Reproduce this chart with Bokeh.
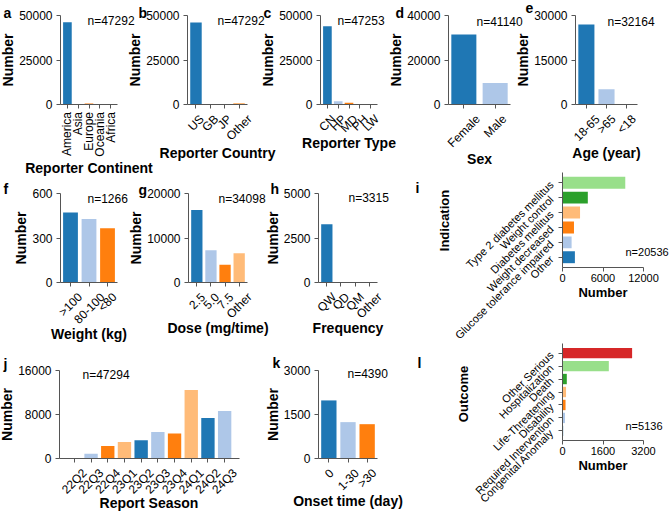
import math
from bokeh.plotting import figure
from bokeh.models import (Range1d, FixedTicker, LabelSet, Label, ColumnDataSource,
                          CustomJSTickFormatter, LinearAxis)
from bokeh.core.properties import value
from bokeh.embed import file_html
from bokeh.resources import INLINE

# ---------------------------------------------------------------- data
continent_labels = ["America", "Asia", "Europe", "Oceania", "Africa"]
continent_counts = [46200, 350, 600, 100, 42]

country_labels = ["US", "GB", "JP", "Other"]
country_counts = [46050, 300, 150, 792]

reporter_labels = ["CN", "HP", "MD", "PH", "LW"]
reporter_counts = [44000, 1800, 1050, 350, 53]

sex_labels = ["Female", "Male"]
sex_counts = [31480, 9660]

age_labels = ["18-65", ">65", "<18"]
age_counts = [26980, 5140, 44]

weight_labels = [">100", "80-100", "<80"]
weight_counts = [472, 428, 366]

dose_labels = ["2.5", "5.0", "7.5", "Other"]
dose_counts = [16300, 7230, 4000, 6568]

freq_labels = ["QW", "QD", "QM", "Other"]
freq_counts = [3270, 20, 15, 10]

indication_labels = ["Type 2 diabetes mellitus", "Weight control", "Diabetes mellitus",
                     "Weight decreased", "Glucose tolerance impaired", "Other"]
indication_counts = [9300, 3750, 2600, 1700, 1350, 1836]

season_labels = ["22Q2", "22Q3", "22Q4", "23Q1", "23Q2", "23Q3", "23Q4", "24Q1", "24Q2", "24Q3"]
season_counts = [30, 880, 2260, 2980, 3340, 4800, 4560, 12450, 7350, 8644]

onset_labels = ["0", "1-30", ">30"]
onset_counts = [1980, 1240, 1170]

outcome_labels = ["Other Serious", "Hospitalization", "Death", "Life-Threatening",
                  "Disability", "Required Intervention", "Congenital Anomaly"]
outcome_counts = [2750, 1830, 170, 140, 120, 100, 26]

# ---------------------------------------------------------------- style
W, H = 669, 511
FONT = "Liberation Sans"
AXIS_COLOR = "#555555"
BLUE, LBLUE, ORANGE, LORANGE = "#1f77b4", "#aec7e8", "#ff7f0e", "#ffbb78"
GREEN, LGREEN, RED = "#2ca02c", "#98df8a", "#d62728"
CYCLE4 = [BLUE, LBLUE, ORANGE, LORANGE]
TAB20 = [BLUE, LBLUE, ORANGE, LORANGE, GREEN, LGREEN, RED]

TICK_PX = 12      # vertical-bar panels
HTICK_PX = 11     # horizontal-bar panels

# advance widths (1/1000 em) of the sans face, used to centre rotated tick labels
_ADV = {" ": 278, "(": 333, ")": 333, "-": 333, ".": 278, "/": 278, "<": 584, ">": 584, "=": 584}
_ADV.update({d: 556 for d in "0123456789"})
_ADV.update(dict(zip("ABCDEFGHIJKLMNOPQRSTUVWXYZ",
                     [667, 667, 722, 722, 667, 611, 778, 722, 278, 500, 667, 556, 833,
                      722, 778, 667, 778, 722, 667, 611, 722, 667, 944, 667, 667, 611])))
_ADV.update(dict(zip("abcdefghijklmnopqrstuvwxyz",
                     [556, 556, 500, 556, 556, 278, 556, 556, 222, 222, 500, 222, 833,
                      556, 556, 556, 556, 333, 500, 278, 556, 500, 722, 500, 500, 500])))


def text_w(s, px):
    return sum(_ADV.get(ch, 556) for ch in s) * px / 1000.0


# one canvas; every panel gets its own pair of scales laid over it
p = figure(width=W, height=H, title=None, output_backend="svg", toolbar_location=None,
           x_axis_type=None, y_axis_type=None, min_border=0,
           x_range=Range1d(0, W), y_range=Range1d(0, H))
p.min_border_left = p.min_border_right = p.min_border_top = p.min_border_bottom = 0
p.outline_line_color = None
p.background_fill_color = "white"
p.border_fill_color = "white"


def x_span(px0, px1, d0, d1):
    s = (d1 - d0) / (px1 - px0)
    return Range1d(d0 - px0 * s, d0 + (W - px0) * s)


def y_span(py_top, py_bot, v_top, v_bot):
    s = (v_top - v_bot) / (py_bot - py_top)
    return Range1d(v_bot - (H - py_bot) * s, v_top + py_top * s)


def style_axis(ax, tick_px=TICK_PX, label_px=14):
    ax.axis_line_color = AXIS_COLOR
    ax.axis_line_width = 1
    ax.major_tick_line_color = AXIS_COLOR
    ax.minor_tick_line_color = None
    ax.major_tick_out = 4
    ax.major_tick_in = 0
    ax.major_label_text_font = FONT
    ax.major_label_text_font_size = f"{tick_px}px"
    ax.major_label_text_color = "black"
    ax.major_label_standoff = 4
    ax.axis_label_text_font = FONT
    ax.axis_label_text_font_size = f"{label_px}px"
    ax.axis_label_text_font_style = "bold"
    ax.axis_label_text_color = "black"
    ax.axis_label_standoff = 0
    return ax


def page_text(text, x, y, size="12px", bold=False, align="left", baseline="middle", angle=0.0):
    p.add_layout(Label(x=x, y=H - y, text=text, angle=angle,
                       text_font=FONT, text_font_size=size,
                       text_font_style="bold" if bold else "normal", text_color="black",
                       text_align=align, text_baseline=baseline))


def vbar_panel(key, frame, labels, counts, ymax, yticks, letter, letter_xy, n_xy,
               xlabel, xlabel_xy, angle_deg=45):
    fx0, fy0, fx1, fy1 = frame
    n = len(labels)
    m = 0.05 * (n - 0.2)
    d0, d1 = -0.4 - m, n - 1 + 0.4 + m
    p.extra_x_ranges[key] = x_span(fx0, fx1, d0, d1)
    p.extra_y_ranges[key] = y_span(fy0, fy1, ymax, 0)

    colors = [CYCLE4[i % 4] for i in range(n)]
    src = ColumnDataSource(dict(x=list(range(n)), top=counts, color=colors))
    p.vbar(x="x", top="top", bottom=0, width=0.8, fill_color="color", line_color=None,
           source=src, x_range_name=key, y_range_name=key)

    xax = style_axis(LinearAxis(x_range_name=key, y_range_name=key, fixed_location=0,
                                bounds=(d0, d1), ticker=FixedTicker(ticks=list(range(n))),
                                formatter=CustomJSTickFormatter(code="return ''")))
    p.add_layout(xax, "below")
    yax = style_axis(LinearAxis(x_range_name=key, y_range_name=key, fixed_location=d0,
                                bounds=(0, ymax), ticker=FixedTicker(ticks=yticks),
                                axis_label="Number"))
    p.add_layout(yax, "left")

    # category labels, rotated and centred under their ticks
    ang = math.radians(angle_deg)
    ylab = fy1 + 7.5 + 7 * math.cos(ang)
    lab = ColumnDataSource(dict(
        x=list(range(n)),
        y=[H - ylab] * n,
        xoff=[0.5 * text_w(s, TICK_PX) * math.cos(ang) for s in labels],
        text=labels))
    p.add_layout(LabelSet(x="x", y="y", x_range_name=key, y_range_name="default",
                          text="text", x_offset="xoff", angle=ang, source=lab,
                          text_font=value(FONT), text_font_size=value(f"{TICK_PX}px"),
                          text_color="black", text_align="right", text_baseline="middle"))

    page_text(xlabel, *xlabel_xy, size="14px", bold=True, align="center")
    page_text(letter, *letter_xy, size="14px", bold=True, baseline="alphabetic")
    page_text(f"n={sum(counts)}", *n_xy, size=f"{TICK_PX}px")


def hbar_panel(key, frame, labels, counts, xmax, xticks, letter, letter_xy, n_xy,
               ylabel, ylabel_xy):
    fx0, fy0, fx1, fy1 = frame
    n = len(labels)
    m = 0.05 * (n - 0.2)
    d0, d1 = -0.4 - m, n - 1 + 0.4 + m
    p.extra_x_ranges[key] = x_span(fx0, fx1, 0, xmax)
    p.extra_y_ranges[key] = y_span(fy0, fy1, d1, d0)

    ypos = [n - 1 - i for i in range(n)]          # first category on top
    colors = TAB20[:n][::-1]
    src = ColumnDataSource(dict(y=ypos, right=counts, color=colors))
    p.hbar(y="y", right="right", left=0, height=0.8, fill_color="color", line_color=None,
           source=src, x_range_name=key, y_range_name=key)

    xax = style_axis(LinearAxis(x_range_name=key, y_range_name=key, fixed_location=d0,
                                bounds=(0, xmax), ticker=FixedTicker(ticks=xticks),
                                axis_label="Number"), tick_px=HTICK_PX, label_px=13)
    xax.major_label_standoff = 2
    p.add_layout(xax, "below")
    yax = style_axis(LinearAxis(x_range_name=key, y_range_name=key, fixed_location=0,
                                bounds=(d0, d1), ticker=FixedTicker(ticks=ypos),
                                formatter=CustomJSTickFormatter(code="return ''")))
    p.add_layout(yax, "left")

    lab = ColumnDataSource(dict(x=[fx0 - 11] * n, y=ypos, text=labels))
    p.add_layout(LabelSet(x="x", y="y", x_range_name="default", y_range_name=key,
                          text="text", angle=math.radians(45), source=lab,
                          text_font=value(FONT), text_font_size=value(f"{HTICK_PX}px"),
                          text_color="black", text_align="right", text_baseline="middle"))

    page_text(ylabel, *ylabel_xy, size="13px", bold=True, align="center", angle=math.pi / 2)
    page_text(letter, *letter_xy, size="14px", bold=True, baseline="alphabetic")
    page_text(f"n={sum(counts)}", *n_xy, size=f"{HTICK_PX}px")


# ---------------------------------------------------------------- panels
vbar_panel("a", (60, 15, 117, 104), continent_labels, continent_counts,
           50000, [0, 25000, 50000], "a", (3, 12), (87, 20),
           "Reporter Continent", (88.5, 167), angle_deg=90)
vbar_panel("b", (187, 15, 247, 104), country_labels, country_counts,
           50000, [0, 25000, 50000], "b", (138, 12), (217, 20),
           "Reporter Country", (217, 152))
vbar_panel("c", (320, 15, 377, 104), reporter_labels, reporter_counts,
           50000, [0, 25000, 50000], "c", (263, 12), (337, 20),
           "Reporter Type", (348.5, 142))
vbar_panel("d", (448, 15, 510, 104), sex_labels, sex_counts,
           40000, [0, 20000, 40000], "d", (395, 12), (476, 21),
           "Sex", (479, 158))
vbar_panel("e", (575, 15, 637, 104), age_labels, age_counts,
           30000, [0, 15000, 30000], "e", (525, 7), (607, 21),
           "Age (year)", (606, 152))

vbar_panel("f", (60, 193, 117, 282), weight_labels, weight_counts,
           600, [0, 300, 600], "f", (3, 188), (87, 198),
           "Weight (kg)", (88.5, 333))
vbar_panel("g", (188, 193, 247, 282), dose_labels, dose_counts,
           20000, [0, 10000, 20000], "g", (138, 189), (218, 198),
           "Dose (mg/time)", (217.5, 327))
vbar_panel("h", (318, 193, 377, 282), freq_labels, freq_counts,
           5000, [0, 2500, 5000], "h", (270, 188), (348, 197),
           "Frequency", (347.5, 327))

vbar_panel("j", (59, 370, 239, 458), season_labels, season_counts,
           16000, [0, 8000, 16000], "j", (3, 363), (82, 374),
           "Report Season", (148.5, 502))
vbar_panel("k", (318, 370, 377, 458), onset_labels, onset_counts,
           3000, [0, 1500, 3000], "k", (272, 362), (347, 373),
           "Onset time (day)", (347.5, 500))

hbar_panel("i", (562, 172, 643, 267), indication_labels, indication_counts,
           12000, [0, 6000, 12000], "i", (415, 187), (625, 251),
           "Indication", (444, 220))
hbar_panel("l", (562, 343, 643, 440), outcome_labels, outcome_counts,
           3200, [0, 1600, 3200], "l", (417, 362), (625, 425),
           "Outcome", (462.5, 393.5))

open("out.html", "w").write(file_html(p, INLINE))
